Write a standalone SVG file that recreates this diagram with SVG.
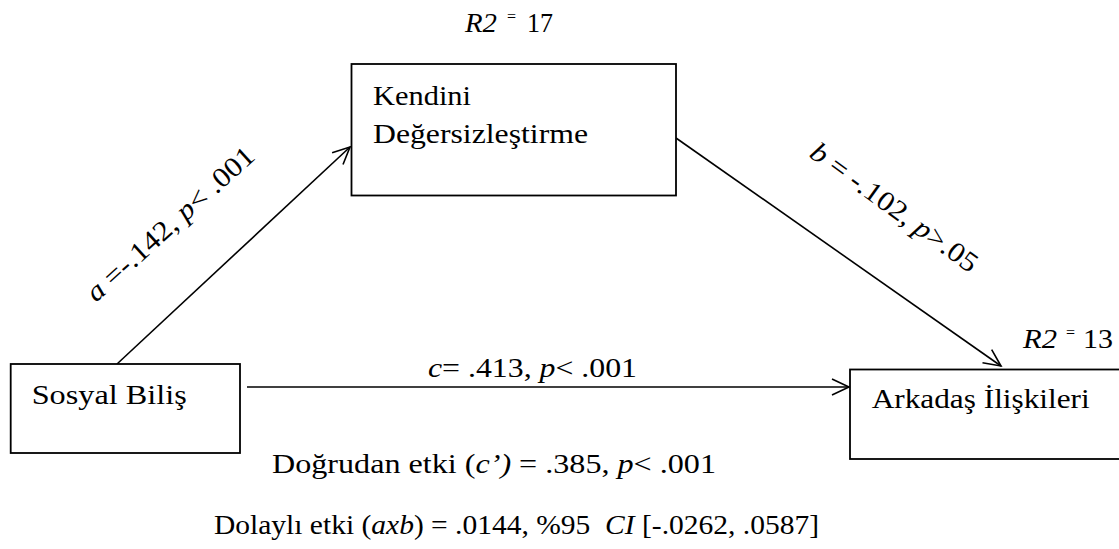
<svg xmlns="http://www.w3.org/2000/svg" width="1119" height="549" viewBox="0 0 1119 549" font-family="'Liberation Serif', 'Times New Roman', Times, serif">
  <style>
    text { font-family: 'Liberation Serif', 'Times New Roman', Times, serif; font-size: 28px; fill: #000; }
    .it { font-style: italic; }
    .sup { font-size: 16px; }
    .box { fill: #fff; stroke: #000; stroke-width: 1.8; }
    .edge { fill: none; stroke: #000; stroke-width: 1.6; }
  </style>
  <defs>
    <marker id="open-arrow" markerUnits="userSpaceOnUse" markerWidth="24" markerHeight="24" viewBox="-20 -12 24 24" refX="0" refY="0" orient="auto">
      <path d="M-17,-8 L0,0 L-17,8" fill="none" stroke="#000" stroke-width="1.6"/>
    </marker>
  </defs>
  <rect width="1119" height="549" fill="#fff"/>

  <!-- connectors -->
  <g id="connectors">
    <line class="edge" x1="117" y1="364" x2="350" y2="147" marker-end="url(#open-arrow)"/>
    <line class="edge" x1="676" y1="138" x2="1001" y2="366" marker-end="url(#open-arrow)"/>
    <line class="edge" x1="247" y1="387" x2="849" y2="387" marker-end="url(#open-arrow)"/>
    <text transform="translate(96,303) rotate(-42)" textLength="216" lengthAdjust="spacingAndGlyphs"><tspan class="it">a</tspan> =-.142, <tspan class="it">p</tspan>&lt; .001</text>
    <text transform="translate(808,156) rotate(36)" textLength="200" lengthAdjust="spacingAndGlyphs"><tspan class="it">b</tspan> = -.102, <tspan class="it">p</tspan>&gt;.05</text>
    <text x="428" y="377" textLength="209" lengthAdjust="spacingAndGlyphs"><tspan class="it">c</tspan>= .413, <tspan class="it">p</tspan>&lt; .001</text>
  </g>

  <!-- mediator -->
  <g id="node-kendini">
    <rect class="box" x="351.5" y="64" width="324.5" height="131.5"/>
    <text x="373" y="105" textLength="98" lengthAdjust="spacingAndGlyphs">Kendini</text>
    <text x="373" y="143" textLength="215" lengthAdjust="spacingAndGlyphs">Değersizleştirme</text>
  </g>
  <g id="r2-kendini">
    <text x="465" y="32" class="it" textLength="32" lengthAdjust="spacingAndGlyphs">R2</text>
    <text x="507" y="22" class="sup">=</text>
    <text x="527" y="32" textLength="26" lengthAdjust="spacingAndGlyphs">17</text>
  </g>

  <!-- predictor -->
  <g id="node-sosyal">
    <rect class="box" x="10.7" y="364" width="229.3" height="89"/>
    <text x="31.7" y="404" textLength="155" lengthAdjust="spacingAndGlyphs">Sosyal Biliş</text>
  </g>

  <!-- outcome -->
  <g id="node-arkadas">
    <rect class="box" x="850" y="369.5" width="280" height="89.5"/>
    <text x="871.7" y="408" textLength="218" lengthAdjust="spacingAndGlyphs">Arkadaş İlişkileri</text>
  </g>
  <g id="r2-arkadas">
    <text x="1023" y="348" class="it" textLength="34" lengthAdjust="spacingAndGlyphs">R2</text>
    <text x="1066" y="338" class="sup">=</text>
    <text x="1083" y="348" textLength="30" lengthAdjust="spacingAndGlyphs">13</text>
  </g>

  <!-- effect summary -->
  <g id="effects">
    <text x="272" y="473" textLength="444" lengthAdjust="spacingAndGlyphs">Doğrudan etki (<tspan class="it">c’)</tspan> = .385, <tspan class="it">p</tspan>&lt; .001</text>
    <text x="214" y="534" xml:space="preserve" textLength="605" lengthAdjust="spacingAndGlyphs">Dolaylı etki (<tspan class="it">axb</tspan>) = .0144, %95  <tspan class="it">CI</tspan> [-.0262, .0587]</text>
  </g>
</svg>
